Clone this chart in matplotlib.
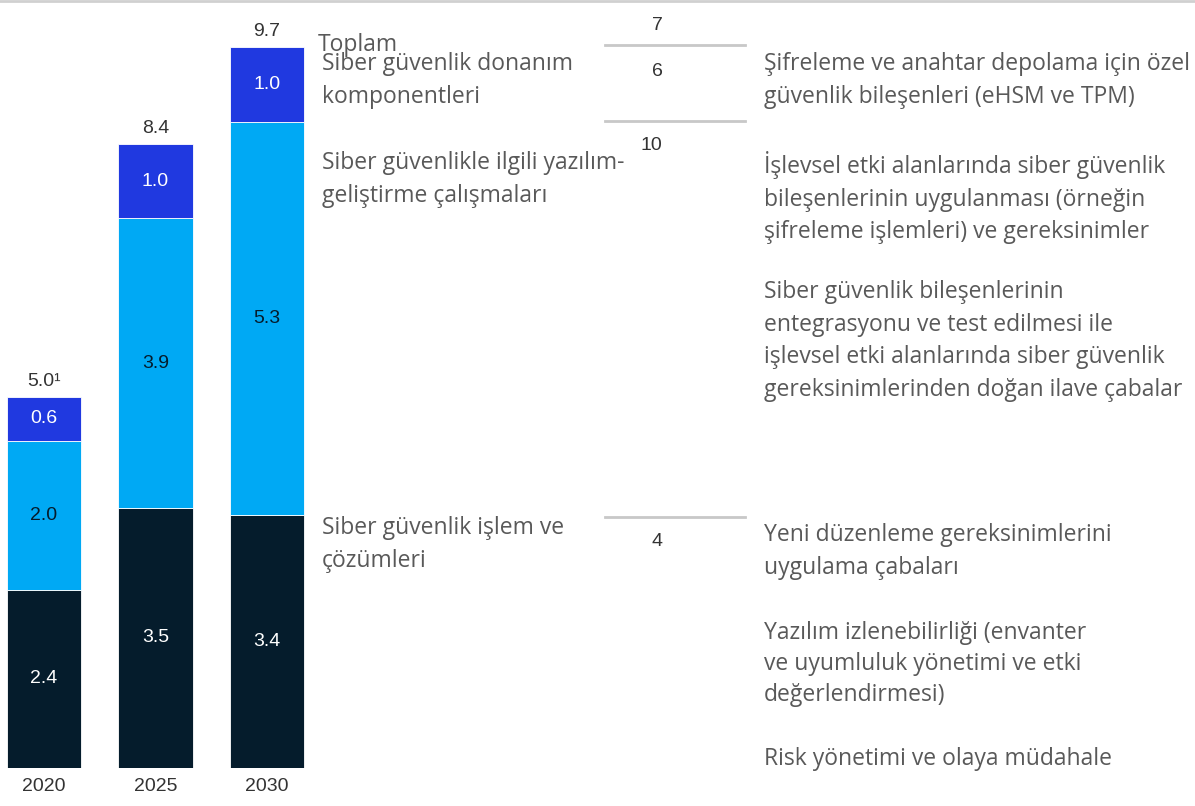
import numpy as np
import matplotlib
matplotlib.use('Agg')
import matplotlib.pyplot as plt
from matplotlib.lines import Line2D

# 数据
years = ['2020', '2025', '2030']
islem = [2.4, 3.5, 3.4]        # Siber güvenlik işlem ve çözümleri
yazilim = [2.0, 3.9, 5.3]      # yazılım geliştirme
donanim = [0.6, 1.0, 1.0]      # donanım komponentleri
totals = ['5.0\u00b9', '8.4', '9.7']

# 右侧分项（%）
share_values = ['7', '6', '10', '4']

COL_DARK = '#051c2c'
COL_LIGHT = '#00a9f4'
COL_BLUE = '#2039e0'
GRAY_TXT = '#595959'

W, H = 1195, 806
fig = plt.figure(figsize=(W / 100, H / 100), dpi=100)

# 柱状图区域（像素换算）
px_unit = 74.3
x_step = 111.5
base_y = 768
ax = fig.add_axes([0, (H - base_y) / H, 320 / W, base_y / H])
ax.set_ylim(0, base_y / px_unit)
x0 = -44 / x_step
ax.set_xlim(x0, x0 + 320 / x_step)
ax.axis('off')

x = np.arange(len(years))
bw = 74 / x_step
b1 = ax.bar(x, islem, width=bw, color=COL_DARK, edgecolor='white', linewidth=0.6)
b2 = ax.bar(x, yazilim, width=bw, bottom=islem, color=COL_LIGHT, edgecolor='white', linewidth=0.6)
bottom3 = np.array(islem) + np.array(yazilim)
b3 = ax.bar(x, donanim, width=bw, bottom=bottom3, color=COL_BLUE, edgecolor='white', linewidth=0.6)

num_font = dict(family='Liberation Sans', fontsize=14)
ax.bar_label(b1, labels=[f'{v:.1f}' for v in islem], label_type='center', color='white', **num_font)
ax.bar_label(b2, labels=[f'{v:.1f}' for v in yazilim], label_type='center', color=COL_DARK, **num_font)
ax.bar_label(b3, labels=[f'{v:.1f}' for v in donanim], label_type='center', color='white', **num_font)

tops = bottom3 + np.array(donanim)
for xi, t, lab in zip(x, tops, totals):
    ax.annotate(lab, (xi, t), xytext=(0, 5), textcoords='offset points',
                ha='center', va='bottom', color='#333333', **num_font)
for xi, y in zip(x, years):
    ax.annotate(y, (xi, 0), xytext=(0, -7), textcoords='offset points',
                ha='center', va='top', color='#333333', **num_font)

# 文字说明
txt_font = dict(family=['Open Sans', 'DejaVu Sans'], fontsize=16.5, color=GRAY_TXT,
                linespacing=1.48, va='top', ha='left')


def ftext(px, py, s, **kw):
    opts = dict(txt_font)
    opts.update(kw)
    fig.text(px / W, 1 - py / H, s, **opts)


ftext(318, 33, 'Toplam')
ftext(322, 52, 'Siber güvenlik donanım\nkomponentleri')
ftext(322, 151, 'Siber güvenlikle ilgili yazılım-\ngeliştirme çalışmaları')
ftext(322, 516, 'Siber güvenlik işlem ve\nçözümleri')

ftext(764, 52, 'Şifreleme ve anahtar depolama için özel\ngüvenlik bileşenleri (eHSM ve TPM)')
ftext(764, 151, 'İşlevsel etki alanlarında siber güvenlik\nbileşenlerinin uygulanması (örneğin\nşifreleme işlemleri) ve gereksinimler')
ftext(764, 280, 'Siber güvenlik bileşenlerinin\nentegrasyonu ve test edilmesi ile\nişlevsel etki alanlarında siber güvenlik\ngereksinimlerinden doğan ilave çabalar')
ftext(764, 523, 'Yeni düzenleme gereksinimlerini\nuygulama çabaları')
ftext(764, 621, 'Yazılım izlenebilirliği (envanter\nve uyumluluk yönetimi ve etki\ndeğerlendirmesi)', linespacing=1.38)
ftext(764, 747, 'Risk yönetimi ve olaya müdahale')

# 中间数字与分隔线
share_y = [25, 72, 146, 541]
share_x = [657, 657, 651, 657]
for sx, sy, v in zip(share_x, share_y, share_values):
    fig.text(sx / W, 1 - sy / H, v, ha='center', va='center', color='#333333',
             family='Liberation Sans', fontsize=14)
for ly in [45, 121, 517]:
    fig.add_artist(Line2D([605 / W, 745 / W], [1 - ly / H, 1 - ly / H],
                          color='#c8c8c8', linewidth=2))

# 顶部细线
fig.add_artist(Line2D([0, 1], [1 - 1 / H, 1 - 1 / H], color='#d0d0d0', linewidth=2))

fig.savefig('out.png', dpi=100)
